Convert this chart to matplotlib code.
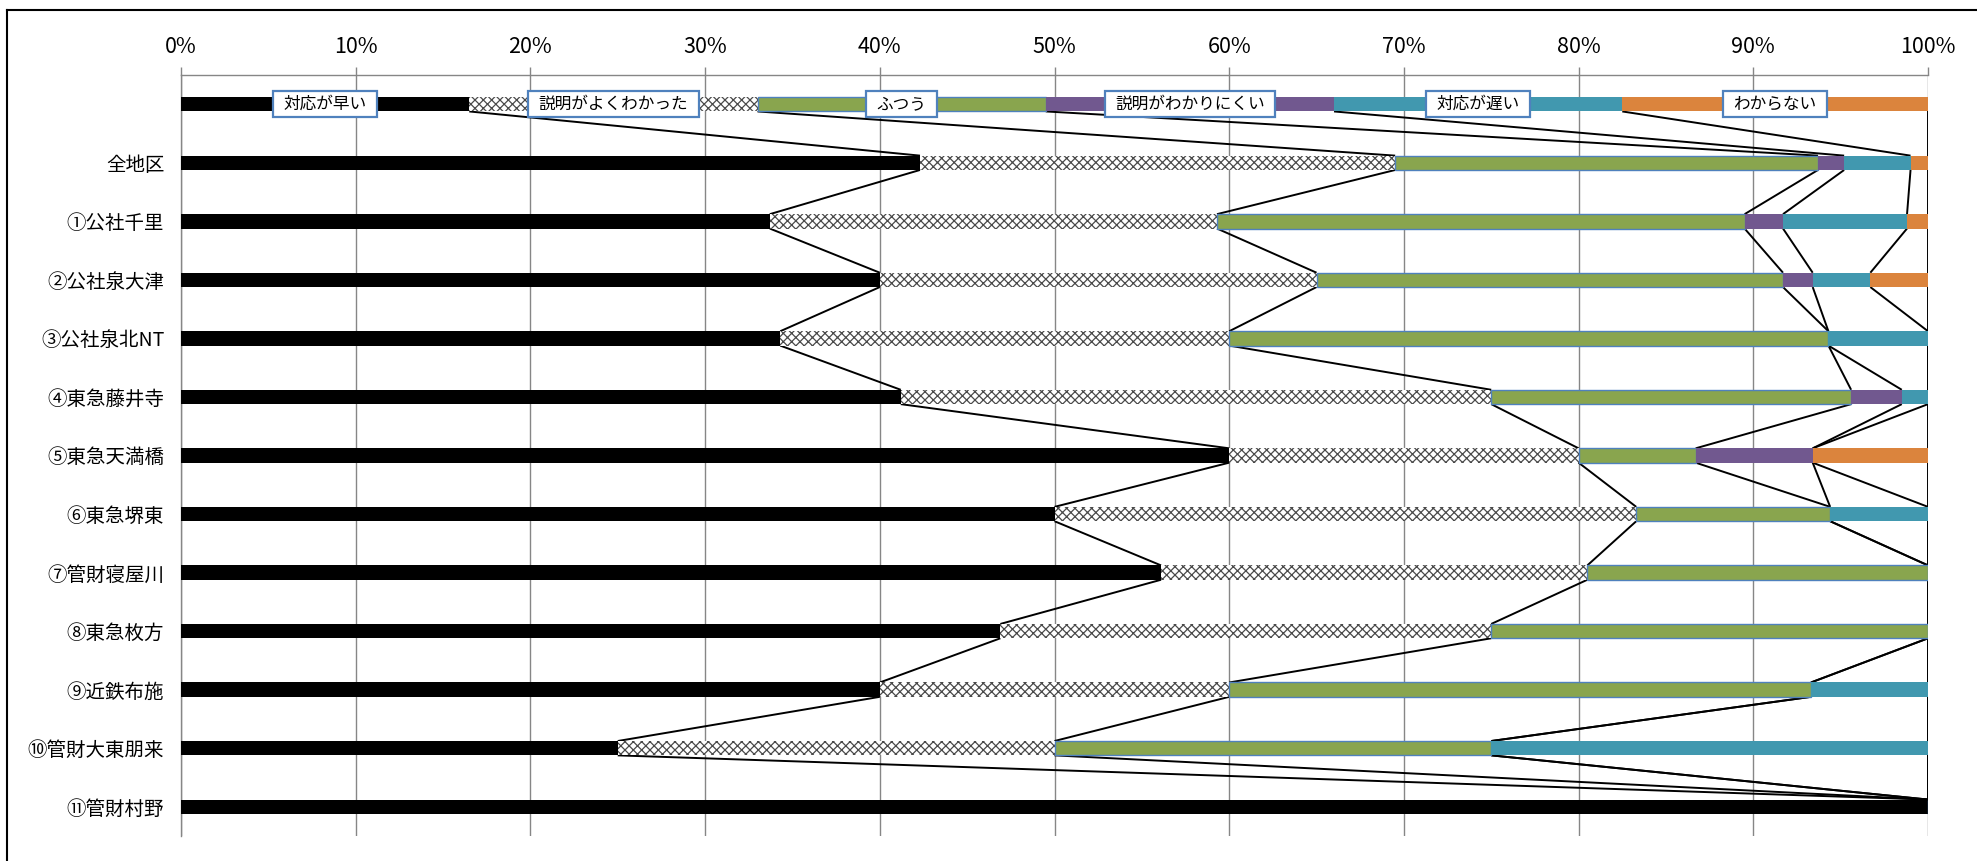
import matplotlib
matplotlib.use("Agg")
import matplotlib.pyplot as plt
import numpy as np
from matplotlib.path import Path
from matplotlib.lines import Line2D

plt.rcParams['font.family'] = ['Noto Sans CJK JP', 'DejaVu Sans']
plt.rcParams['hatch.linewidth'] = 0.9

# Categories (top row is the legend bar, no label)
categories = ['', '全地区', '①公社千里', '②公社泉大津', '③公社泉北NT', '④東急藤井寺',
              '⑤東急天満橋', '⑥東急堺東', '⑦管財寝屋川', '⑧東急枚方', '⑨近鉄布施',
              '⑩管財大東朋来', '⑪管財村野']

series_names = ['対応が早い', '説明がよくわかった', 'ふつう', '説明がわかりにくい', '対応が遅い', 'わからない']

# Shares (%) per category, one list per series
fast       = [16.5, 42.3, 33.7, 40.0, 34.3, 41.2, 60.0, 50.0, 56.1, 46.9, 40.0, 25.0, 100.0]
clear      = [16.5, 27.2, 25.6, 25.0, 25.7, 33.8, 20.0, 33.3, 24.4, 28.1, 20.0, 25.0, 0.0]
normal     = [16.5, 24.2, 30.2, 26.7, 34.3, 20.6, 6.7, 11.1, 19.5, 25.0, 33.3, 25.0, 0.0]
unclear    = [16.5, 1.5, 2.2, 1.7, 0.0, 2.9, 6.7, 0.0, 0.0, 0.0, 0.0, 0.0, 0.0]
slow       = [16.5, 3.8, 7.1, 3.3, 5.7, 1.5, 0.0, 5.6, 0.0, 0.0, 6.7, 25.0, 0.0]
unknown    = [17.5, 1.0, 1.2, 3.3, 0.0, 0.0, 6.6, 0.0, 0.0, 0.0, 0.0, 0.0, 0.0]

series = [fast, clear, normal, unclear, slow, unknown]
styles = [
    dict(color='black', linewidth=0),
    dict(facecolor='white', edgecolor='#4a4a4a', hatch='xxxx', linewidth=0),
    dict(facecolor='#89A54E', edgecolor='#4F81BD', linewidth=1.0),
    dict(color='#71588F', linewidth=0),
    dict(color='#4198AF', linewidth=0),
    dict(color='#DB843D', linewidth=0),
]

W, H = 1977, 861
fig = plt.figure(figsize=(W / 100, H / 100), dpi=100)
x0, x1 = 181, 1928
y0, y1 = 75, 836
ax = fig.add_axes([x0 / W, 1 - y1 / H, (x1 - x0) / W, (y1 - y0) / H])

n = len(categories)
ypos = np.arange(n)
bar_h = 0.245

data = np.array(series, dtype=float)
cum = np.cumsum(data, axis=0)
left = np.vstack([np.zeros(n), cum[:-1]])

for k in range(len(series)):
    ax.barh(ypos, data[k], left=left[k], height=bar_h, zorder=3, **styles[k])

# Series lines joining segment ends of adjacent bars
for i in range(n - 1):
    for k in range(len(series)):
        ax.plot([cum[k, i], cum[k, i + 1]], [i + bar_h / 2, i + 1 - bar_h / 2],
                color='black', linewidth=1.4, zorder=2, solid_capstyle='butt')


def wide_box(x0, y0, width, height, mutation_size):
    px = 0.62 * mutation_size
    py = 0.28 * mutation_size
    xa, xb = x0 - px, x0 + width + px
    ya, yb = y0 - py, y0 + height + py
    return Path([(xa, ya), (xb, ya), (xb, yb), (xa, yb), (xa, ya)], closed=True)


# Series names as labels on the top bar
for k, name in enumerate(series_names):
    cx = left[k, 0] + data[k, 0] / 2
    ax.text(cx, 0, name, ha='center', va='center', fontsize=12, color='black', zorder=5,
            bbox=dict(boxstyle=wide_box, facecolor='white', edgecolor='#4F81BD', linewidth=1.6))

ax.set_xlim(0, 100)
ax.set_ylim(n - 0.5, -0.5)
ax.set_xticks(np.arange(0, 101, 10))
ax.set_xticklabels([f'{v}%' for v in range(0, 101, 10)])
ax.xaxis.tick_top()
ax.tick_params(axis='x', which='both', top=True, bottom=False, length=6, width=1.0,
               color='#868686', labelsize=15.5, pad=6)
ax.set_yticks(ypos)
ax.set_yticklabels(categories)
ax.tick_params(axis='y', length=0, labelsize=14, pad=12)
ax.grid(axis='x', color='#868686', linewidth=1.0, zorder=0)
ax.set_axisbelow(True)
for side in ['right', 'bottom']:
    ax.spines[side].set_visible(False)
ax.spines['top'].set_color('#868686')
ax.spines['left'].set_color('#868686')
ax.spines['top'].set_linewidth(1.0)
ax.spines['left'].set_linewidth(1.0)

# Chart-area frame (top and left edges)
fig.add_artist(Line2D([7 / W, 1], [1 - 10 / H, 1 - 10 / H], color='black', linewidth=1.5,
                      transform=fig.transFigure))
fig.add_artist(Line2D([7 / W, 7 / W], [0, 1 - 10 / H], color='black', linewidth=1.5,
                      transform=fig.transFigure))

fig.savefig('out.png', dpi=100)
